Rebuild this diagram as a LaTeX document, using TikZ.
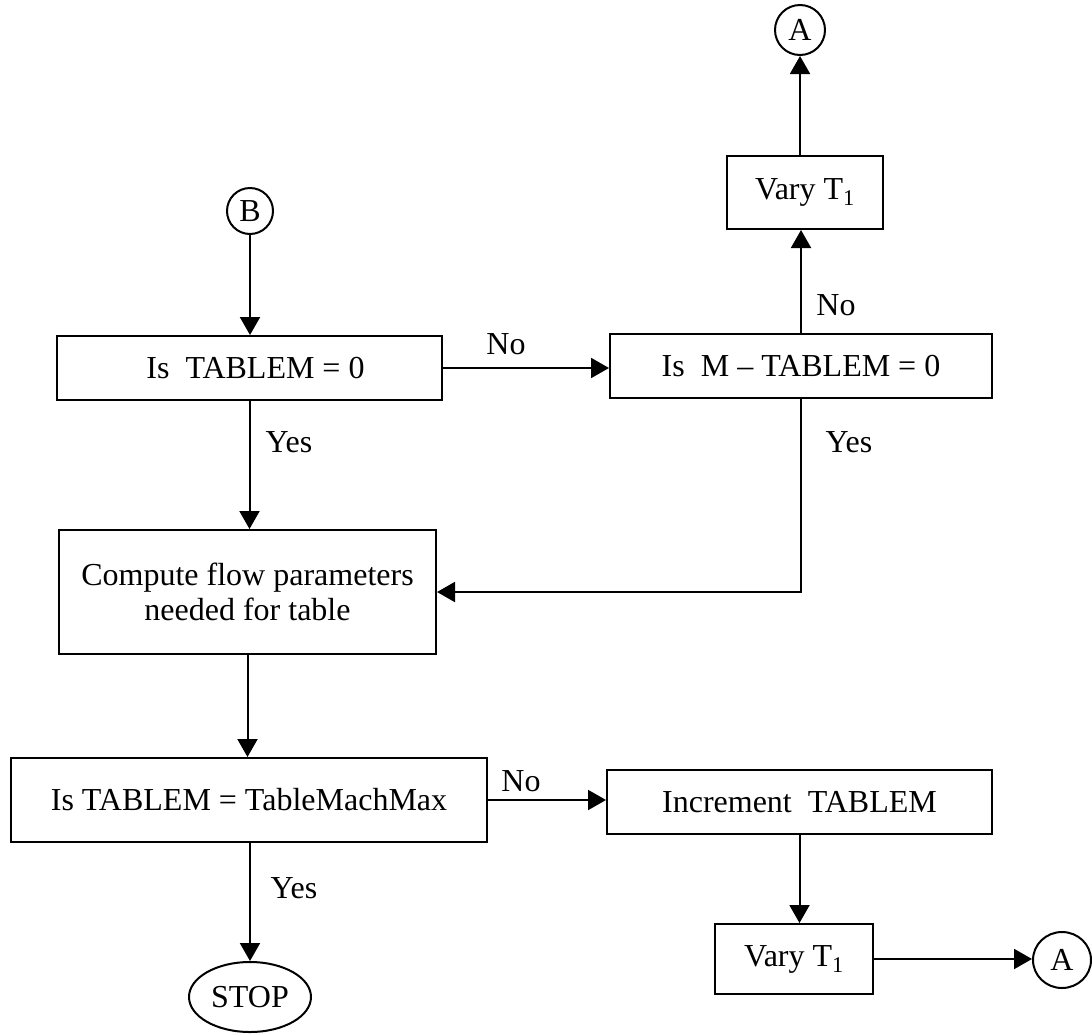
\documentclass[tikz,border=0pt]{standalone}
\usepackage{fontspec}
\setmainfont{Liberation Serif}
\usetikzlibrary{arrows.meta,shapes.geometric}

\tikzset{
  box/.style={draw,line width=2pt,rectangle,inner sep=0pt,align=center},
  conn/.style={draw,line width=2pt,circle,inner sep=0pt},
  arr/.style={line width=2pt,-{Triangle[length=18pt,width=20pt]}},
  lbl/.style={inner sep=0pt}
}

\begin{document}
\begin{tikzpicture}[x=1pt,y=1pt,yscale=-1,xscale=1,font=\fontsize{32}{35}\selectfont]
\useasboundingbox (0,0) rectangle (1092,1034);
% connectors A and B
\node (atop) [conn,minimum size=50pt] at (800,30) {A};
\node (bcon) [conn,minimum size=46pt] at (250,211) {B};
% boxes
\node (varyone) [box,minimum width=156pt,minimum height=73pt] at (805,192.5) {Vary T\textsubscript{1}};
\node (tzero) [box,minimum width=385pt,minimum height=64pt] at (249.5,368) {\hspace{12pt}Is\ \ TABLEM = 0};
\node (mzero) [box,minimum width=382pt,minimum height=64pt] at (801,366) {Is\ \ M -- TABLEM = 0};
\node (comp) [box,minimum width=377pt,minimum height=124pt] at (247.5,592) {Compute flow parameters\\needed for table};
\node (tmax) [box,minimum width=476pt,minimum height=84pt] at (249,800) {Is TABLEM = TableMachMax};
\node (incr) [box,minimum width=385pt,minimum height=64pt] at (799.5,802) {Increment\ \ TABLEM};
\node (varytwo) [box,minimum width=158pt,minimum height=70pt] at (794,959) {Vary T\textsubscript{1}};
\node (abot) [draw,line width=2pt,ellipse,inner sep=0pt,minimum width=58pt,minimum height=56pt] at (1062,960) {A};
\node (stop) [draw,line width=2pt,ellipse,inner sep=0pt,minimum width=122pt,minimum height=70pt] at (250,997) {STOP};
% arrows
\draw[arr] (varyone.north -| atop) -- (atop.south);
\draw[arr] (mzero.north) -- (varyone.south -| mzero.north);
\draw[arr] (bcon.south) -- (tzero.north -| bcon.south);
\draw[arr] (tzero.east) -- (tzero.east -| mzero.west);
\draw[arr] (tzero.south) -- (tzero.south |- comp.north);
\draw[arr] (mzero.south) |- (comp.east);
\draw[arr] (comp.south) -- (comp.south |- tmax.north);
\draw[arr] (tmax.east) -- (tmax.east -| incr.west);
\draw[arr] (incr.south) -- (incr.south |- varytwo.north);
\draw[arr] (varytwo.east) -- (varytwo.east -| abot.west);
\draw[arr] (tmax.south -| stop) -- (stop.north);
% labels
\node (nozero) [lbl] at (506,344) {No};
\node (nomzero) [lbl] at (836,305) {No};
\node (yeszero) [lbl] at (289,442) {Yes};
\node (yesmzero) [lbl] at (849,442) {Yes};
\node (nomax) [lbl] at (521,781) {No};
\node (yesmax) [lbl] at (294,888) {Yes};
\end{tikzpicture}
\end{document}
